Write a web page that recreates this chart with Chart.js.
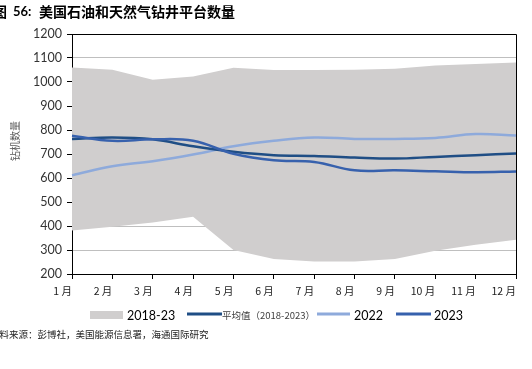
<!DOCTYPE html>
<html>
<head>
<meta charset="utf-8">
<script src="https://cdn.jsdelivr.net/npm/chart.js@4.4.0/dist/chart.umd.min.js"></script>
<style>
  html, body { margin: 0; padding: 0; background: #fff; }
  #wrap { width: 532px; height: 369px; }
</style>
</head>
<body>
<div id="wrap"><canvas id="rigs-chart" width="532" height="369"></canvas></div>
<script>
// months on the x axis
const months = ['1 月', '2 月', '3 月', '4 月', '5 月', '6 月', '7 月', '8 月', '9 月', '10 月', '11 月', '12 月'];

// 2018-23 range (band)
const rangeHigh = [1060, 1051, 1009, 1023, 1059, 1050, 1050, 1051, 1055, 1069, 1075, 1081];
const rangeLow = [381, 397, 415, 439, 300, 262, 252, 252, 262, 297, 322, 343];

// lines
const avg1823 = [762, 769, 761, 732, 709, 695, 692, 685, 681, 688, 695, 702];
const rigs2022 = [611, 649, 670, 698, 732, 755, 769, 763, 763, 767, 783, 777];
const rigs2023 = [776, 755, 761, 755, 701, 674, 667, 632, 632, 628, 624, 627];

const yMin = 200;
const yMax = 1200;
const yStep = 100;

const BAND = '#d0cece';
const AVG = '#1f4e85';
const C2022 = '#8eaadb';
const C2023 = '#3761ad';

const CJK = '"Noto Sans CJK SC", sans-serif';
const NUM = 'Lato, "Open Sans", sans-serif';

// title, source note, y title, frame, legend
const decorations = {
  id: 'decorations',
  afterDraw(chart) {
    const ctx = chart.ctx;
    const area = chart.chartArea;
    ctx.save();

    // frame (top and right edges)
    ctx.strokeStyle = '#000';
    ctx.lineWidth = 1;
    ctx.beginPath();
    ctx.moveTo(area.left, area.top + 0.5);
    ctx.lineTo(area.right + 0.5, area.top + 0.5);
    ctx.lineTo(area.right + 0.5, area.bottom);
    ctx.stroke();

    // title
    ctx.fillStyle = '#000';
    ctx.textBaseline = 'middle';
    ctx.textAlign = 'left';
    ctx.font = 'bold 14px ' + CJK;
    ctx.fillText('图', -7, 12);
    ctx.font = 'bold 13px ' + NUM;
    ctx.fillText('56:', 13, 12);
    ctx.font = 'bold 14px ' + CJK;
    ctx.fillText('美国石油和天然气钻井平台数量', 39, 12);

    // source
    ctx.font = '9.5px ' + CJK;
    ctx.fillStyle = '#222';
    ctx.fillText('资料来源：彭博社，美国能源信息署，海通国际研究', -10, 334);

    // y axis title
    ctx.save();
    ctx.translate(15, 141);
    ctx.rotate(-Math.PI / 2);
    ctx.textAlign = 'center';
    ctx.font = '10px ' + CJK;
    ctx.fillStyle = '#595959';
    ctx.fillText('钻机数量', 0, 0);
    ctx.restore();

    // legend
    const ly = 315;
    ctx.fillStyle = BAND;
    ctx.fillRect(90, ly - 4, 33, 8);
    ctx.fillStyle = '#000';
    ctx.font = '12.5px ' + NUM;
    ctx.fillText('2018-23', 127, ly + 1);

    const lineItem = (x0, x1, color) => {
      ctx.strokeStyle = color;
      ctx.lineWidth = 3;
      ctx.beginPath();
      ctx.moveTo(x0, ly - 1);
      ctx.lineTo(x1, ly - 1);
      ctx.stroke();
    };
    lineItem(187, 222, AVG);
    ctx.fillStyle = '#404040';
    ctx.font = '9.5px ' + CJK;
    ctx.fillText('平均值（2018-2023）', 222, ly);
    lineItem(317, 350, C2022);
    ctx.fillStyle = '#000';
    ctx.font = '12.5px ' + NUM;
    ctx.fillText('2022', 354, ly + 1);
    lineItem(396, 431, C2023);
    ctx.fillText('2023', 434, ly + 1);

    ctx.restore();
  }
};

const ctx = document.getElementById('rigs-chart').getContext('2d');

new Chart(ctx, {
  type: 'line',
  data: {
    labels: months,
    datasets: [
      {
        label: '平均值（2018-2023）',
        data: avg1823,
        borderColor: AVG,
        borderWidth: 2.5,
        tension: 0.4,
        pointRadius: 0,
        fill: false,
        order: 1,
      },
      {
        label: '2022',
        data: rigs2022,
        borderColor: C2022,
        borderWidth: 2.5,
        tension: 0.4,
        pointRadius: 0,
        fill: false,
        order: 2,
      },
      {
        label: '2023',
        data: rigs2023,
        borderColor: C2023,
        borderWidth: 2.5,
        tension: 0.4,
        pointRadius: 0,
        fill: false,
        order: 0,
      },
      {
        label: '2018-23',
        data: rangeHigh,
        borderWidth: 0,
        borderColor: BAND,
        backgroundColor: BAND,
        pointRadius: 0,
        tension: 0,
        fill: '+1',
        order: 10,
      },
      {
        label: 'low',
        data: rangeLow,
        borderWidth: 0,
        borderColor: BAND,
        pointRadius: 0,
        tension: 0,
        fill: false,
        order: 11,
      },
    ],
  },
  options: {
    responsive: false,
    animation: false,
    devicePixelRatio: 1,
    layout: { padding: { top: 34, right: 16, left: 0, bottom: 0 } },
    plugins: {
      legend: { display: false },
      tooltip: { enabled: false },
      filler: { propagate: false },
    },
    scales: {
      x: {
        type: 'category',
        offset: false,
        grid: {
          drawOnChartArea: false,
          drawTicks: true,
          tickLength: 5,
          tickColor: '#000',
        },
        border: { display: true, color: '#000', width: 1 },
        ticks: {
          align: 'end',
          padding: 6,
          color: '#222',
          font: { family: CJK, size: 10.5 },
          maxRotation: 0,
          autoSkip: false,
        },
        afterFit(scale) {
          scale.height = 95;
        },
      },
      y: {
        min: yMin,
        max: yMax,
        grid: {
          color: '#bfbfbf',
          lineWidth: 1,
          tickLength: 5,
          tickColor: '#000',
        },
        border: { display: true, color: '#000', width: 1 },
        ticks: {
          stepSize: yStep,
          padding: 5,
          color: '#333',
          font: { family: NUM, size: 12.5 },
          callback: (v) => String(v),
        },
        afterFit(scale) {
          scale.width = 72;
        },
      },
    },
  },
  plugins: [decorations],
});
</script>
</body>
</html>
